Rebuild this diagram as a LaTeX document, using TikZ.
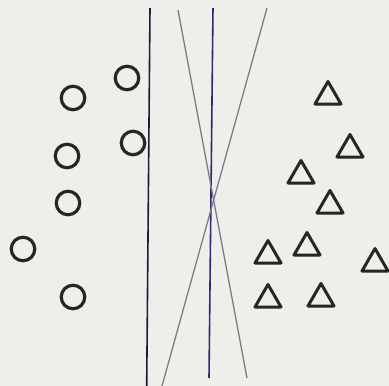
\documentclass[tikz,border=0pt]{standalone}
\usepackage{tikz}
\usetikzlibrary{shapes.geometric}
\definecolor{PaperGrey}{HTML}{EEEEEB}
\definecolor{InkNavy}{HTML}{1C1C3A}
\definecolor{InkBlue}{HTML}{2A2A78}
\definecolor{InkGrey}{HTML}{7C7C86}
\begin{document}
\begin{tikzpicture}[x=1pt, y=-1pt,
  dot/.style={draw=black!85, circle, line width=3.2pt, inner sep=0pt, minimum size=23.5pt},
  tri/.style={draw=black!85, regular polygon, regular polygon sides=3, line width=3pt,
              line join=round, inner sep=0pt, minimum size=30pt},
  sep/.style={line width=1.6pt}]
\fill[PaperGrey] (0,0) rectangle (389,386);
\useasboundingbox (0,0) rectangle (389,386);
% class one: circles
\node[dot] (c1) at (127,78) {};
\node[dot] (c2) at (73,98) {};
\node[dot] (c3) at (133,143) {};
\node[dot] (c4) at (67,156) {};
\node[dot] (c5) at (68,203) {};
\node[dot] (c6) at (23,249) {};
\node[dot] (c7) at (73,297) {};
% class two: triangles
\node[tri] (t1) at (328,96.5) {};
\node[tri] (t2) at (350,149.5) {};
\node[tri] (t3) at (301,175.5) {};
\node[tri] (t4) at (330,205.5) {};
\node[tri] (t5) at (307,247.5) {};
\node[tri] (t6) at (268,255.5) {};
\node[tri] (t7) at (375,263.5) {};
\node[tri] (t8) at (268,299.5) {};
\node[tri] (t9) at (321,298.5) {};
% separating lines
\coordinate (la) at (150,8);   \coordinate (lb) at (146.7,386);
\coordinate (ma) at (213,8);   \coordinate (mb) at (209,378);
\coordinate (da) at (178,10);  \coordinate (db) at (247,378);
\coordinate (ea) at (267,8);   \coordinate (eb) at (162,386);
\draw[sep, InkNavy] (la) -- (lb);
\draw[sep, InkBlue] (ma) -- (mb);
\draw[sep, InkGrey, line width=1.3pt] (da) -- (db);
\draw[sep, InkGrey, line width=1.3pt] (ea) -- (eb);
\end{tikzpicture}
\end{document}
